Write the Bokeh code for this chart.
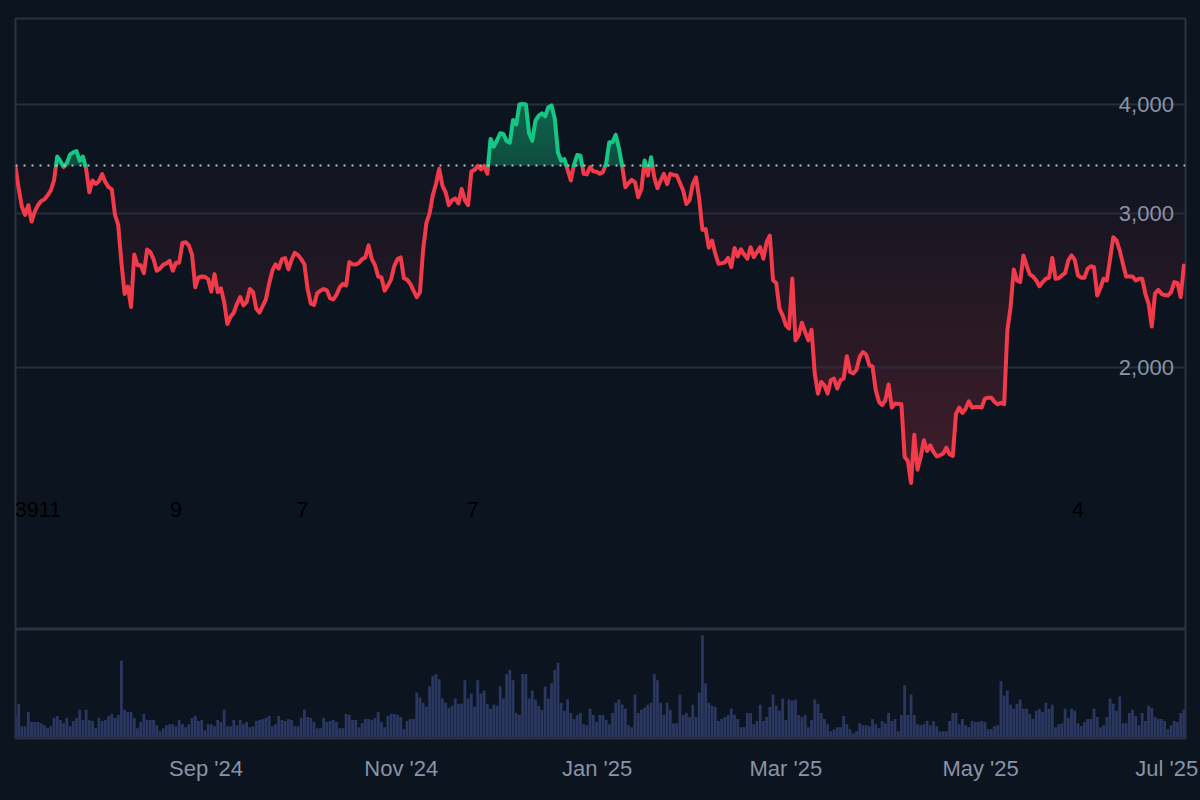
from bokeh.plotting import figure
from bokeh.layouts import column
from bokeh.core.properties import value
from bokeh.models import FixedTicker, GlobalInlineStyleSheet, NumeralTickFormatter, Span
from bokeh.embed import file_html
from bokeh.resources import INLINE
import numpy as np
import pandas as pd

## Data

first_day = "2024-07-04"
baseline = 3404

prices = [
    3390, 3200, 3053, 2988, 3066, 2937, 3014, 3066, 3100, 3112,
    3147, 3188, 3272, 3485, 3443, 3390, 3426, 3505, 3523, 3535,
    3446, 3485, 3374, 3172, 3272, 3242, 3266, 3327, 3258, 3215,
    3197, 2988, 2912, 2635, 2427, 2475, 2345, 2692, 2618, 2618,
    2563, 2728, 2710, 2660, 2580, 2595, 2620, 2630, 2648, 2580,
    2635, 2635, 2776, 2781, 2758, 2692, 2470, 2535, 2541, 2539,
    2524, 2442, 2557, 2438, 2463, 2376, 2242, 2285, 2309, 2365,
    2407, 2355, 2376, 2459, 2438, 2335, 2311, 2351, 2392, 2492,
    2580, 2624, 2595, 2660, 2667, 2590, 2655, 2705, 2689, 2660,
    2624, 2459, 2366, 2358, 2433, 2448, 2459, 2450, 2400, 2392,
    2421, 2470, 2492, 2481, 2640, 2624, 2622, 2635, 2660, 2672,
    2758, 2660, 2618, 2541, 2535, 2448, 2481, 2520, 2612, 2660,
    2672, 2530, 2520, 2492, 2448, 2407, 2438, 2728, 2924, 3000,
    3147, 3242, 3374, 3228, 3172, 3066, 3106, 3120, 3080, 3201,
    3106, 3066, 3350, 3365, 3400, 3370, 3400, 3331, 3651, 3577,
    3635, 3706, 3699, 3630, 3613, 3838, 3792, 3998, 4003, 3998,
    3703, 3634, 3831, 3882, 3906, 3874, 3968, 3987, 3849, 3523,
    3447, 3462, 3366, 3272, 3412, 3499, 3493, 3331, 3325, 3390,
    3352, 3349, 3331, 3345, 3420, 3620, 3620, 3690, 3560, 3400,
    3215, 3250, 3277, 3257, 3132, 3200, 3450, 3315, 3478, 3300,
    3207, 3272, 3330, 3241, 3330, 3320, 3315, 3250, 3187, 3075,
    3107, 3241, 3300, 3118, 2873, 2880, 2741, 2794, 2699, 2628,
    2632, 2637, 2669, 2604, 2739, 2679, 2729, 2692, 2663, 2745,
    2674, 2710, 2745, 2663, 2782, 2830, 2515, 2498, 2335, 2294,
    2235, 2216, 2527, 2148, 2177, 2250, 2196, 2148, 2209, 1968,
    1866, 1925, 1908, 1867, 1933, 1942, 1892, 1933, 1942, 2060,
    1976, 1968, 1988, 2056, 2083, 2069, 2012, 2004, 1884, 1827,
    1811, 1835, 1912, 1800, 1819, 1817, 1815, 1580, 1563, 1475,
    1675, 1528, 1580, 1651, 1605, 1629, 1601, 1582, 1587, 1594,
    1619, 1591, 1584, 1770, 1799, 1774, 1794, 1829, 1799, 1802,
    1802, 1800, 1842, 1847, 1847, 1826, 1815, 1822, 1815, 2205,
    2344, 2588, 2515, 2504, 2686, 2616, 2555, 2541, 2515, 2477,
    2504, 2526, 2533, 2669, 2526, 2530, 2548, 2564, 2651, 2686,
    2655, 2548, 2533, 2533, 2593, 2611, 2604, 2417, 2467, 2526,
    2515, 2662, 2818, 2794, 2722, 2628, 2541, 2541, 2541, 2515,
    2526, 2526, 2428, 2365, 2228, 2428, 2454, 2428, 2420, 2417,
    2439, 2504, 2499, 2407, 2616,
]

volumes = [
    21, 33, 11, 11, 25, 15, 15, 15, 14, 12,
    9, 11, 19, 21, 17, 14, 19, 11, 16, 19,
    27, 17, 27, 17, 16, 9, 19, 16, 17, 21,
    23, 19, 22, 75, 27, 25, 25, 19, 9, 15,
    23, 17, 17, 17, 12, 6, 9, 12, 13, 13,
    11, 17, 13, 10, 13, 19, 21, 16, 17, 7,
    13, 13, 11, 17, 15, 27, 11, 11, 17, 12,
    17, 13, 15, 10, 11, 16, 17, 18, 19, 21,
    11, 13, 21, 17, 16, 18, 17, 11, 11, 19,
    27, 20, 19, 15, 9, 9, 19, 15, 16, 17,
    15, 9, 9, 23, 22, 17, 17, 10, 14, 18,
    18, 17, 19, 25, 15, 10, 21, 23, 23, 22,
    20, 8, 16, 18, 18, 44, 39, 34, 30, 50,
    60, 62, 57, 38, 34, 29, 31, 38, 33, 33,
    56, 38, 43, 30, 56, 43, 46, 33, 28, 32,
    31, 50, 38, 62, 66, 56, 24, 22, 62, 62,
    38, 46, 37, 31, 27, 50, 38, 53, 66, 73,
    34, 26, 37, 24, 18, 22, 24, 13, 12, 28,
    22, 15, 22, 22, 17, 13, 24, 34, 37, 32,
    28, 12, 10, 42, 24, 27, 29, 32, 34, 62,
    56, 34, 22, 34, 27, 14, 14, 42, 22, 24,
    20, 32, 20, 44, 100, 53, 34, 31, 30, 16,
    18, 20, 22, 28, 22, 18, 10, 10, 24, 24,
    13, 16, 32, 16, 20, 30, 42, 31, 26, 38,
    17, 37, 36, 37, 22, 20, 22, 10, 17, 37,
    33, 24, 18, 13, 6, 8, 10, 10, 21, 13,
    8, 4, 6, 14, 12, 12, 11, 18, 13, 9,
    16, 14, 24, 16, 18, 6, 22, 51, 22, 42,
    22, 13, 12, 13, 16, 12, 16, 11, 6, 6,
    6, 16, 24, 24, 13, 18, 12, 10, 16, 15,
    15, 16, 15, 8, 8, 11, 12, 55, 41, 46,
    32, 28, 33, 37, 28, 28, 23, 18, 26, 28,
    25, 34, 28, 32, 10, 13, 14, 28, 19, 28,
    26, 14, 11, 15, 18, 18, 28, 20, 10, 12,
    20, 38, 33, 26, 40, 14, 14, 24, 27, 21,
    12, 24, 16, 31, 29, 20, 18, 18, 16, 8,
    12, 16, 15, 24, 27,
]

y_ticks = [2000, 3000, 4000]

# the last label sits a little left of 1 Jul in the picture, it is pushed back inside the page
x_tick_dates = ["2024-09-01 08:00", "2024-11-01 04:00", "2025-01-01 04:00",
                "2025-03-01 00:00", "2025-04-30 16:00", "2025-06-27 16:00"]
x_tick_labels = ["Sep '24", "Nov '24", "Jan '25", "Mar '25", "May '25", "Jul '25"]

# stray black texts halfway down the chart
note_texts = ["3911", "9", "7", "7", "4"]
note_dates = ["2024-07-11", "2024-08-23", "2024-10-01 10:00", "2024-11-23 10:00", "2025-05-31"]
note_price = 1376

## Colours

bg = (12, 20, 32)
bg_hex = "#0c1420"
border = "#2b3240"
grid = "#272e3b"
red = (242, 58, 74)
green = (20, 199, 133)
red_hex = "#f23a4a"
green_hex = "#14c785"
label = "#8a92a6"
bar = "#2a3760"
font = "Liberation Sans"


def ms(day):
    return pd.Timestamp(day).value / 10**6


def mix(color, alpha):
    # colour seen when a translucent fill lies over the background
    return tuple(int(round(b + alpha * (c - b))) for b, c in zip(bg, color))


dates = pd.date_range(first_day, periods=len(prices), freq="D")
x = dates.values.astype("datetime64[ms]").astype(float)
y = np.array(prices, dtype=float)

# add the points where the line crosses the baseline, so both colours meet there
xs, ys = [x[0]], [y[0]]
for i in range(1, len(x)):
    if (y[i - 1] - baseline) * (y[i] - baseline) < 0:
        t = (baseline - y[i - 1]) / (y[i] - y[i - 1])
        xs.append(x[i - 1] + t * (x[i] - x[i - 1]))
        ys.append(baseline)
    xs.append(x[i])
    ys.append(y[i])
xs = np.array(xs)
ys = np.array(ys)

x_start = ms("2024-07-04")
x_end = ms("2025-07-03 12:00")

## Price panel

p = figure(width=1200, height=629, x_range=(x_start, x_end), y_range=(1003, 5013),
           y_axis_type="log", x_axis_location=None, output_backend="svg",
           toolbar_location=None, background_fill_color=bg_hex, border_fill_color=bg_hex,
           min_border_left=15, min_border_right=15, min_border_top=18, min_border_bottom=0)
p.outline_line_color = border
p.outline_line_width = 2
p.xgrid.visible = False
p.ygrid.ticker = FixedTicker(ticks=y_ticks)
p.ygrid.grid_line_color = grid
p.ygrid.grid_line_width = 2

# gradients: opaque layers painted one over the other, the grid stays above them
levels = np.geomspace(baseline, 1460, 40)
for k, level in enumerate(levels):
    alpha = 0.02 + 0.22 * k / (len(levels) - 1)
    p.varea(xs, np.minimum(ys, level), np.full(len(xs), level),
            fill_color=mix(red, alpha), level="image")

levels = np.geomspace(baseline, 4003, 12)
for k, level in enumerate(levels):
    alpha = 0.32 + 0.13 * k / (len(levels) - 1)
    p.varea(xs, np.full(len(xs), level), np.maximum(ys, level),
            fill_color=mix(green, alpha), level="image")

p.line(xs, np.where(ys <= baseline, ys, np.nan), line_color=red_hex, line_width=4,
       line_join="round", line_cap="round")
p.line(xs, np.where(ys >= baseline, ys, np.nan), line_color=green_hex, line_width=4,
       line_join="round", line_cap="round")

p.add_layout(Span(location=baseline, dimension="width", line_color="#b9bdc6",
                  line_width=2, line_dash=[2, 6]))

p.text(x=[ms(d) for d in note_dates], y=[note_price] * len(note_texts), text=note_texts,
       text_color="#000000", text_font=value(font), text_font_size="21.5px",
       text_align="center", text_baseline="middle")

# price labels stay inside the frame, near the right edge
axis = p.yaxis[0]
axis.fixed_location = ms("2025-07-01 18:00")
axis.ticker = FixedTicker(ticks=y_ticks)
axis.formatter = NumeralTickFormatter(format="0,0")
axis.axis_line_color = None
axis.major_tick_line_color = None
axis.minor_tick_line_color = None
axis.major_label_text_color = label
axis.major_label_text_font = font
axis.major_label_text_font_size = "22px"
axis.major_label_standoff = 0

## Volume panel

v = figure(width=1200, height=171, x_range=p.x_range, y_range=(-1, 105.5),
           output_backend="svg", toolbar_location=None, background_fill_color=bg_hex,
           border_fill_color=bg_hex, y_axis_location=None,
           min_border_left=15, min_border_right=15, min_border_top=0, min_border_bottom=62)
v.outline_line_color = border
v.outline_line_width = 2
v.grid.visible = False
v.vbar(x=x, top=volumes, width=86400000 * 0.88, fill_color=bar, line_color=None)

v.xaxis.ticker = FixedTicker(ticks=[ms(d) for d in x_tick_dates])
v.xaxis.major_label_overrides = {ms(d): t for d, t in zip(x_tick_dates, x_tick_labels)}
v.xaxis.axis_line_color = None
v.xaxis.major_tick_line_color = None
v.xaxis.minor_tick_line_color = None
v.xaxis.major_label_text_color = label
v.xaxis.major_label_text_font = font
v.xaxis.major_label_text_font_size = "22px"
v.xaxis.major_label_standoff = 11

layout = column(p, v, spacing=0, width=1200, height=800,
                stylesheets=[GlobalInlineStyleSheet(css="html, body { margin: 0; background: %s; overflow: hidden; }" % bg_hex)])

open("out.html", "w").write(file_html(layout, INLINE))
